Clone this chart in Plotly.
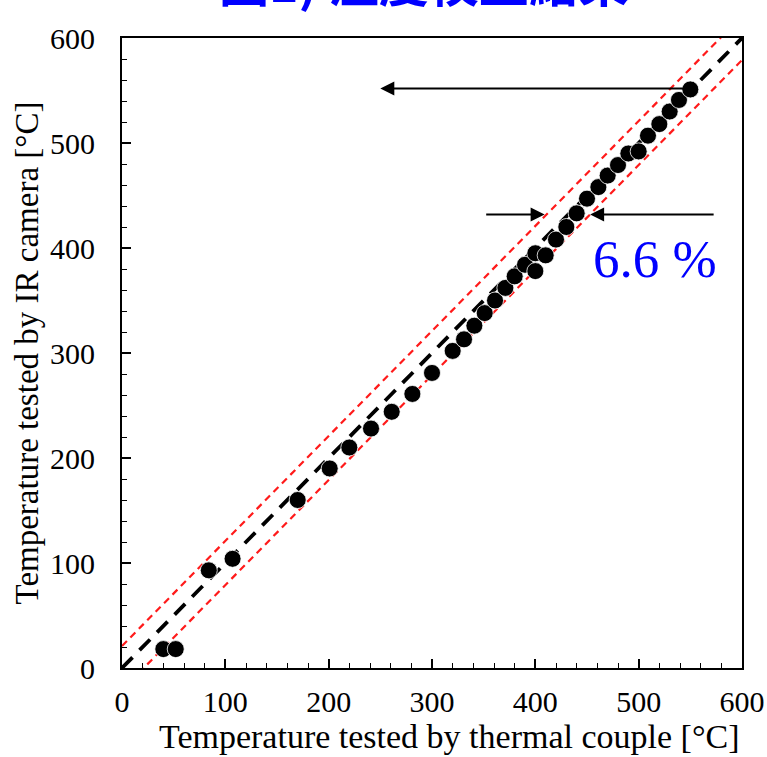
import plotly.graph_objects as go

# Data
tc_temp = [40, 52, 84, 107, 170, 201, 220, 241, 261, 281, 300, 320, 331, 341, 351,
           361, 371, 380, 390, 400, 400, 410, 420, 430, 440, 450, 461, 470, 480,
           490, 500, 509, 520, 530, 539, 550]
ir_temp = [18, 18, 93, 104, 160, 190, 210, 228, 244, 261, 281, 302, 313, 326, 338,
           350, 362, 373, 384, 395, 378, 393, 408, 420, 433, 447, 458, 469, 479,
           490, 492, 507, 518, 530, 541, 551]
ideal_x = [0, 600]
band = 21  # +/- band offset (6.6 % total band)
tick_vals = [0, 100, 200, 300, 400, 500, 600]

serif = "Liberation Serif, Times New Roman, serif"

fig = go.Figure()
fig.add_trace(go.Scatter(x=ideal_x, y=[v + band for v in ideal_x], mode="lines",
                         line=dict(color="#ff1a1a", width=2.2, dash="7px,5px"),
                         showlegend=False, hoverinfo="skip"))
fig.add_trace(go.Scatter(x=ideal_x, y=[v - band for v in ideal_x], mode="lines",
                         line=dict(color="#ff1a1a", width=2.2, dash="7px,5px"),
                         showlegend=False, hoverinfo="skip"))
fig.add_trace(go.Scatter(x=ideal_x, y=ideal_x, mode="lines",
                         line=dict(color="black", width=3.8, dash="15px,10px"),
                         showlegend=False, hoverinfo="skip"))
fig.add_trace(go.Scatter(x=tc_temp, y=ir_temp, mode="markers",
                         marker=dict(color="black", size=17,
                                     line=dict(color="white", width=0.8)),
                         showlegend=False))

axis_common = dict(range=[0, 600], tickvals=tick_vals, ticks="inside", ticklen=9,
                   tickwidth=1.5, tickcolor="black", showline=True, linecolor="black",
                   linewidth=2, mirror=True, showgrid=False, zeroline=False,
                   ticklabeloverflow="allow", automargin=False,
                   tickfont=dict(family=serif, size=30, color="black"),
                   minor=dict(dtick=20, ticks="inside", ticklen=5, tickwidth=1.2,
                              tickcolor="black", showgrid=False))

fig.update_xaxes(**axis_common, ticklabelstandoff=6)
fig.update_yaxes(**axis_common, ticklabelstandoff=19,
                 title=dict(text="Temperature tested by IR camera [°C]",
                            font=dict(family=serif, size=33, color="black"), standoff=1))

annotations = [
    # x-axis title (offset to the right as in the reference)
    dict(x=0.529, y=-0.1095, xref="paper", yref="paper", yanchor="middle",
         text="Temperature tested by thermal couple [°C]", showarrow=False,
         font=dict(family=serif, size=34, color="black")),
    # top long arrow pointing left
    dict(x=250, y=552, ax=548, ay=552, xref="x", yref="y", axref="x", ayref="y",
         text="", showarrow=True, arrowhead=2, arrowsize=1.4, arrowwidth=2,
         arrowcolor="black"),
    # band-width arrows
    dict(x=409, y=432, ax=351, ay=432, xref="x", yref="y", axref="x", ayref="y",
         text="", showarrow=True, arrowhead=2, arrowsize=1.4, arrowwidth=2,
         arrowcolor="black"),
    dict(x=453, y=432, ax=574, ay=432, xref="x", yref="y", axref="x", ayref="y",
         text="", showarrow=True, arrowhead=2, arrowsize=1.4, arrowwidth=2,
         arrowcolor="black"),
    dict(x=516, y=390, xref="x", yref="y", text="6.6 %", showarrow=False,
         font=dict(family=serif, size=53, color="#0000ff")),
    dict(x=0.487, y=1.092, xref="paper", yref="paper", text="<b>圖1) 溫度校正結果</b>",
         showarrow=False, yanchor="middle",
         font=dict(family="Noto Sans CJK TC", size=50, color="#0000ff")),
]

fig.update_layout(width=767, height=757, margin=dict(l=122, r=25, t=38, b=89),
                  plot_bgcolor="white", paper_bgcolor="white",
                  annotations=annotations)

fig.write_html("out.html", config={"displayModeBar": False},
               post_script="document.body.style.margin='0px';document.body.style.overflow='hidden';")
